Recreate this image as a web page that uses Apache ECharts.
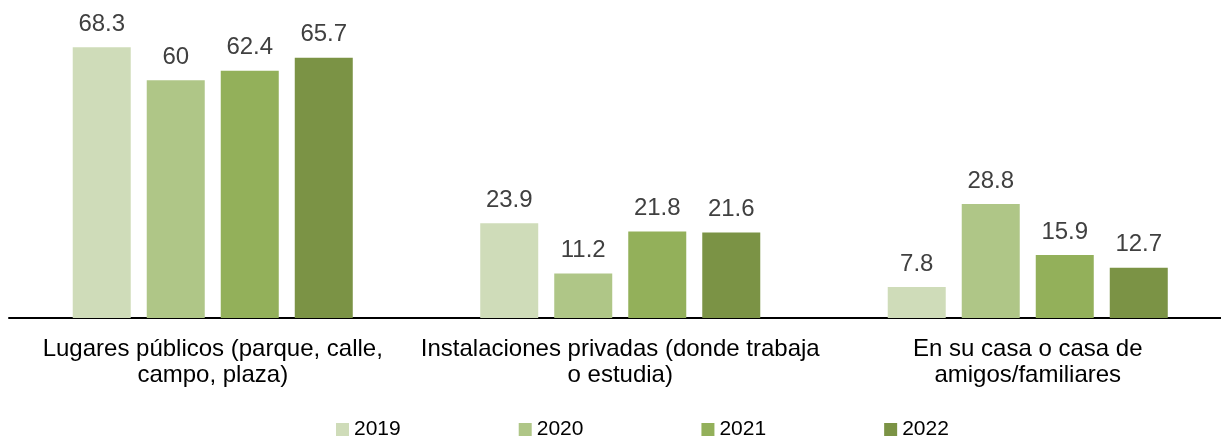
<!DOCTYPE html>
<html>
<head>
<meta charset="utf-8">
<script src="https://cdn.jsdelivr.net/npm/echarts@6/dist/echarts.min.js"></script>
<style>
  html, body { margin: 0; padding: 0; background: #fff; }
  #chart { width: 1221px; height: 438px; }
</style>
</head>
<body>
<div id="chart"></div>
<script type="text/javascript">
    var categories = [
        'Lugares públicos (parque, calle,\ncampo, plaza)',
        'Instalaciones privadas (donde trabaja\no estudia)',
        'En su casa o casa de\namigos/familiares'
    ];
    var years = ['2019', '2020', '2021', '2022'];
    var v2019 = [68.3, 23.9, 7.8];
    var v2020 = [60, 11.2, 28.8];
    var v2021 = [62.4, 21.8, 15.9];
    var v2022 = [65.7, 21.6, 12.7];
    var colors = ['#cfdcb9', '#afc687', '#93b05a', '#7b9345'];

    var font = 'Liberation Sans, Arial, sans-serif';
    var values = [v2019, v2020, v2021, v2022];
    var series = [];
    for (var i = 0; i < years.length; i++) {
        series.push({
            name: years[i],
            type: 'bar',
            data: values[i],
            barWidth: 58,
            barGap: '27.6%',
            itemStyle: { color: colors[i] },
            label: {
                show: true,
                position: 'top',
                distance: 11,
                color: '#404040',
                fontSize: 24,
                fontFamily: font
            }
        });
    }

    var chart = echarts.init(document.getElementById('chart'));
    chart.setOption({
        animation: false,
        color: colors,
        grid: { left: 9, top: 1, width: 1222.5, height: 317, outerBoundsMode: 'none' },
        legend: {
            left: 336,
            top: 419,
            padding: 0,
            itemWidth: 13,
            itemHeight: 13,
            itemGap: 118,
            icon: 'rect',
            textStyle: { color: '#000', fontSize: 21, fontFamily: font },
            data: years
        },
        xAxis: {
            type: 'category',
            data: categories,
            axisLine: { lineStyle: { color: '#000', width: 2 } },
            axisTick: { show: false },
            axisLabel: {
                margin: 18,
                color: '#000',
                fontSize: 24,
                lineHeight: 26,
                fontFamily: font,
                interval: 0
            }
        },
        yAxis: {
            type: 'value',
            min: 0,
            max: 80,
            show: false
        },
        series: series
    });
</script>
</body>
</html>
